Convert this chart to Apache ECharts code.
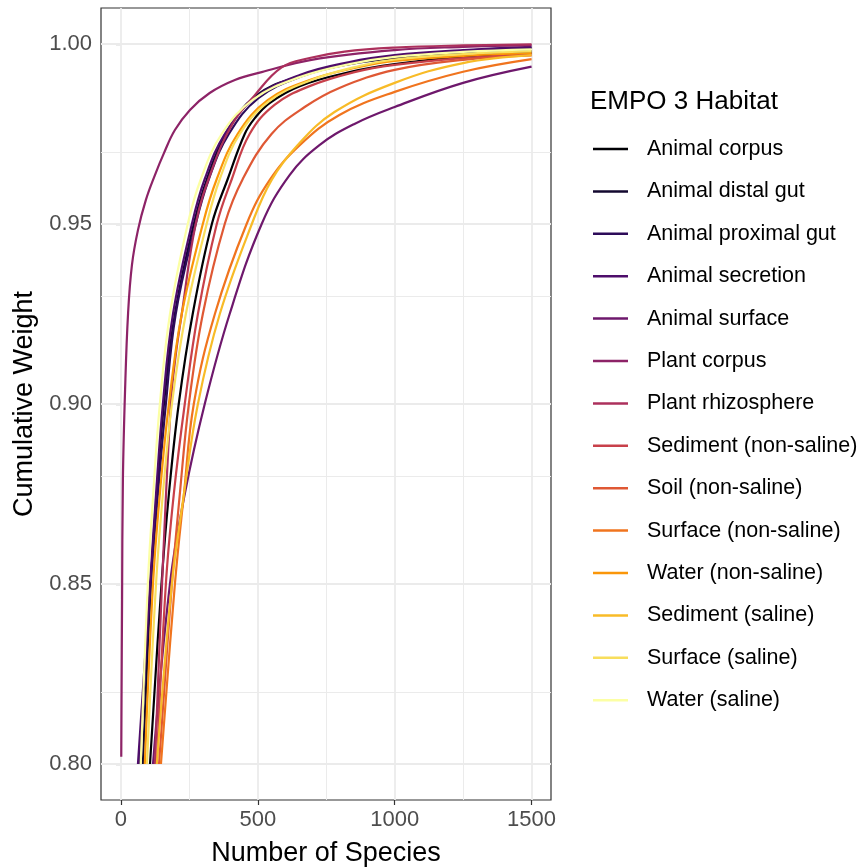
<!DOCTYPE html>
<html>
<head>
<meta charset="utf-8">
<script src="https://cdn.jsdelivr.net/npm/echarts@6/dist/echarts.min.js"></script>
<style>
  html, body { margin: 0; padding: 0; background: #fff; }
  #chart { width: 862px; height: 867px; }
</style>
</head>
<body>
<div id="chart"></div>
<script>
// habitat order as in the legend
const habitats = [
  'Animal corpus', 'Animal distal gut', 'Animal proximal gut', 'Animal secretion',
  'Animal surface', 'Plant corpus', 'Plant rhizosphere', 'Sediment (non-saline)',
  'Soil (non-saline)', 'Surface (non-saline)', 'Water (non-saline)',
  'Sediment (saline)', 'Surface (saline)', 'Water (saline)'
];

// [number of species, cumulative weight]
const animalCorpus = [[106, 0.80], [148, 0.85], [175, 0.875], [211, 0.90], [262, 0.925], [332, 0.95], [390, 0.9625], [452, 0.975], [489, 0.9794], [543, 0.9836], [653, 0.9883], [835, 0.9922], [1000, 0.9944], [1250, 0.9964], [1500, 0.9975]];
const animalDistalGut = [[80, 0.80], [109, 0.85], [131, 0.875], [157, 0.90], [197, 0.925], [266, 0.95], [314, 0.9625], [383, 0.975], [492, 0.9856], [653, 0.9911], [835, 0.9944], [1000, 0.9961], [1250, 0.9974], [1500, 0.9980]];
const animalProximalGut = [[66, 0.80], [109, 0.85], [135, 0.875], [164, 0.90], [200, 0.925], [273, 0.95], [321, 0.9625], [394, 0.975], [503, 0.985], [663, 0.9911], [842, 0.9947], [1000, 0.9967], [1250, 0.9981], [1500, 0.9989]];
const animalSecretion = [[62, 0.80], [106, 0.85], [128, 0.875], [153, 0.90], [190, 0.925], [259, 0.95], [306, 0.9625], [379, 0.975], [489, 0.985], [653, 0.9914], [835, 0.9950], [1000, 0.9969], [1250, 0.9983], [1500, 0.9992]];
const animalSurface = [[117, 0.80], [179, 0.85], [233, 0.875], [306, 0.90], [397, 0.925], [514, 0.95], [616, 0.9636], [725, 0.9719], [853, 0.9778], [1000, 0.9825], [1250, 0.9892], [1500, 0.9937]];
const plantCorpus = [[1, 0.802], [2, 0.8178], [4, 0.8456], [7, 0.879], [15, 0.904], [26, 0.9253], [40, 0.9386], [62, 0.9483], [91, 0.9567], [124, 0.9636], [157, 0.9697], [197, 0.9761], [252, 0.9817], [324, 0.9864], [416, 0.9900], [514, 0.9922], [696, 0.9956], [1000, 0.9983], [1250, 0.9992], [1500, 0.9997]];
const plantRhizosphere = [[124, 0.80], [150, 0.85], [182, 0.90], [200, 0.9136], [222, 0.925], [273, 0.95], [332, 0.965], [405, 0.9775], [489, 0.9858], [587, 0.9935], [689, 0.9961], [817, 0.9979], [1000, 0.9990], [1250, 0.9996], [1500, 0.9999]];
const sedimentNonSaline = [[131, 0.80], [164, 0.85], [193, 0.875], [233, 0.90], [281, 0.925], [350, 0.95], [405, 0.9625], [470, 0.975], [561, 0.9831], [689, 0.9883], [853, 0.9922], [1000, 0.9942], [1250, 0.9961], [1500, 0.9972]];
const soilNonSaline = [[139, 0.80], [186, 0.85], [215, 0.875], [248, 0.90], [299, 0.925], [379, 0.95], [445, 0.9625], [550, 0.975], [671, 0.9825], [798, 0.9878], [1000, 0.9928], [1250, 0.9956], [1500, 0.9968]];
const surfaceNonSaline = [[146, 0.80], [197, 0.85], [230, 0.875], [266, 0.90], [343, 0.925], [459, 0.95], [543, 0.9622], [653, 0.9719], [798, 0.9803], [1000, 0.9867], [1250, 0.9923], [1500, 0.9958]];
const waterNonSaline = [[87, 0.80], [117, 0.85], [142, 0.875], [175, 0.90], [222, 0.925], [299, 0.95], [350, 0.9625], [426, 0.975], [536, 0.9844], [689, 0.99], [871, 0.9936], [1000, 0.9953], [1250, 0.9967], [1500, 0.9975]];
const sedimentSaline = [[131, 0.80], [186, 0.85], [230, 0.875], [281, 0.90], [361, 0.925], [478, 0.95], [550, 0.9622], [645, 0.9719], [780, 0.9811], [1000, 0.9892], [1250, 0.9947], [1500, 0.9969]];
const surfaceSaline = [[95, 0.80], [128, 0.85], [153, 0.875], [186, 0.90], [237, 0.925], [313, 0.95], [361, 0.9625], [434, 0.975], [543, 0.9842], [696, 0.99], [871, 0.9939], [1000, 0.9957], [1250, 0.9972], [1500, 0.9980]];
const waterSaline = [[72, 0.80], [98, 0.85], [118, 0.875], [142, 0.90], [179, 0.925], [244, 0.95], [292, 0.9625], [368, 0.975], [485, 0.9847], [653, 0.9908], [835, 0.9944], [1000, 0.9964], [1250, 0.9978], [1500, 0.9985]];

const curves = [
  animalCorpus, animalDistalGut, animalProximalGut, animalSecretion, animalSurface,
  plantCorpus, plantRhizosphere, sedimentNonSaline, soilNonSaline, surfaceNonSaline,
  waterNonSaline, sedimentSaline, surfaceSaline, waterSaline
];

const xTicks = [0, 500, 1000, 1500];
const xMinor = [250, 750, 1250];
const yTicks = [0.80, 0.85, 0.90, 0.95, 1.00];
const yMinor = [0.825, 0.875, 0.925, 0.975];

// inferno, 14 steps
const palette = [
  '#000004', '#13082f', '#2d0b59', '#4e0d6b', '#6e186c', '#8d2367', '#ac305c',
  '#c8404a', '#df5834', '#f0741e', '#fa9609', '#f8bb27', '#f8de5c', '#fcffa4'
];

const font = '"Liberation Sans", Arial, Helvetica, sans-serif';
const gridColor = '#ebebeb';

const gridLines = [].concat(
  xMinor.map(v => ({ xAxis: v, lineStyle: { width: 1, color: gridColor, type: 'solid' } })),
  yMinor.map(v => ({ yAxis: v, lineStyle: { width: 1, color: gridColor, type: 'solid' } })),
  xTicks.map(v => ({ xAxis: v, lineStyle: { width: 1.8, color: gridColor, type: 'solid' } })),
  yTicks.map(v => ({ yAxis: v, lineStyle: { width: 1.8, color: gridColor, type: 'solid' } }))
);

const series = [{
  type: 'line',
  data: [],
  silent: true,
  z: 1,
  markLine: {
    silent: true,
    symbol: 'none',
    animation: false,
    z: 1,
    label: { show: false },
    emphasis: { disabled: true },
    data: gridLines
  }
}];

curves.forEach((pts, i) => {
  series.push({
    name: habitats[i],
    type: 'line',
    data: pts,
    smooth: 0.4,
    showSymbol: false,
    symbol: 'none',
    z: 3,
    color: palette[i],
    itemStyle: { color: palette[i] },
    lineStyle: { width: 2.2, color: palette[i] },
    emphasis: { disabled: true }
  });
});

const chart = echarts.init(document.getElementById('chart'));
chart.setOption({
  animation: false,
  backgroundColor: '#fff',
  textStyle: { fontFamily: font },
  title: {
    text: 'EMPO 3 Habitat',
    left: 585,
    top: 84,
    textStyle: { fontSize: 26, fontWeight: 'normal', color: '#000', fontFamily: font }
  },
  legend: {
    data: habitats,
    orient: 'vertical',
    left: 593,
    top: 138,
    padding: 0,
    icon: 'rect',
    itemWidth: 35,
    itemHeight: 2.5,
    itemGap: 20.4,
    selectedMode: false,
    textStyle: { fontSize: 21.5, color: '#000', lineHeight: 22, padding: [0, 0, 0, 14], fontFamily: font }
  },
  grid: {
    left: 101,
    top: 8,
    right: 311,
    bottom: 67,
    outerBoundsMode: 'none',
    containLabel: false,
    show: true,
    backgroundColor: '#fff',
    borderColor: '#333',
    borderWidth: 1.2
  },
  xAxis: {
    type: 'value',
    min: -73,
    max: 1571,
    name: 'Number of Species',
    nameLocation: 'middle',
    nameGap: 40,
    nameTextStyle: { fontSize: 27, color: '#000', fontFamily: font },
    axisLine: { show: false },
    axisTick: { customValues: xTicks, length: 5, lineStyle: { color: '#333', width: 1.2 } },
    axisLabel: {
      customValues: xTicks, fontSize: 22, color: '#4d4d4d', margin: 9, fontFamily: font,
      formatter: v => String(v)
    },
    splitLine: { show: false }
  },
  yAxis: {
    type: 'value',
    min: 0.79,
    max: 1.01,
    name: 'Cumulative Weight',
    nameLocation: 'middle',
    nameGap: 53,
    nameTextStyle: { fontSize: 27, color: '#000', fontFamily: font },
    axisLine: { show: false },
    axisTick: { customValues: yTicks, length: 5, lineStyle: { color: '#333', width: 1.2 } },
    axisLabel: {
      customValues: yTicks, fontSize: 22, color: '#4d4d4d', margin: 9, fontFamily: font,
      formatter: v => v.toFixed(2)
    },
    splitLine: { show: false }
  },
  series: series
});
</script>
</body>
</html>
